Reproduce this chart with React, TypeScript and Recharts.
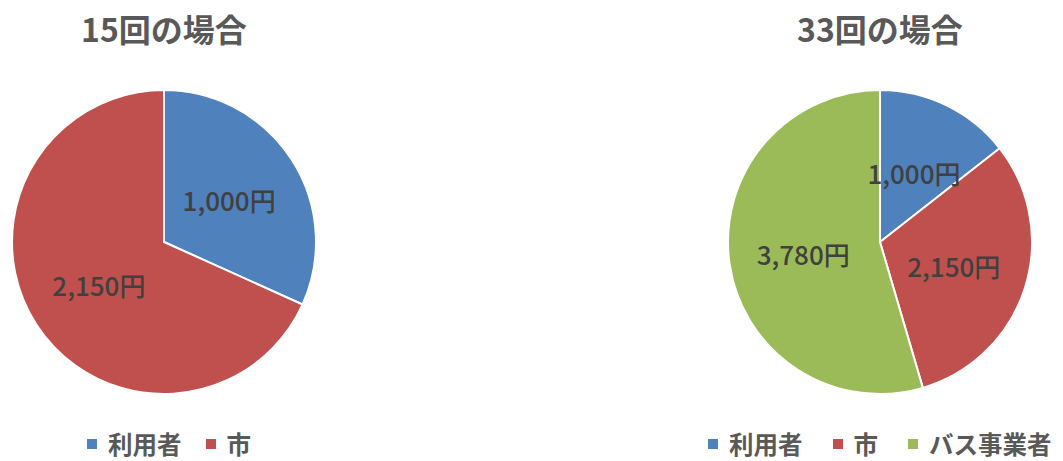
import React from 'react';
import { PieChart, Pie, Cell, Legend } from 'recharts';

const categories15 = ['利用者', '市'];
const values15 = [1000, 2150];
const categories33 = ['利用者', '市', 'バス事業者'];
const values33 = [1000, 2150, 3780];
const titles = ['15回の場合', '33回の場合'];
const colors = ['#4F81BD', '#C0504D', '#9BBB59'];

const FONT = '"Noto Sans CJK JP", "Noto Sans", sans-serif';
const RAD = Math.PI / 180;

const renderLabel = (props: any) => {
  const { cx, cy, midAngle, outerRadius, value } = props;
  const r = outerRadius * 0.51;
  const x = cx + r * Math.cos(-midAngle * RAD);
  const y = cy + r * Math.sin(-midAngle * RAD);
  return (
    <text x={x} y={y} fill="#404040" textAnchor="middle" dominantBaseline="central"
      style={{ fontFamily: FONT, fontSize: 26, fontWeight: 500 }}>
      {value.toLocaleString('en-US')}円
    </text>
  );
};

const makeLegend = (cats: string[], gap: number) => () => (
  <div style={{ display: 'flex', alignItems: 'center', fontFamily: FONT, whiteSpace: 'nowrap', height: 26 }}>
    {cats.map((c, i) => (
      <div key={i} style={{ display: 'flex', alignItems: 'center', marginLeft: i === 0 ? 0 : gap, height: 26 }}>
        <span style={{ display: 'inline-block', width: 10, height: 10, background: colors[i], marginRight: 11 }} />
        <span style={{ fontSize: 24.5, fontWeight: 700, color: '#595959', lineHeight: '26px', height: 26 }}>{c}</span>
      </div>
    ))}
  </div>
);

const PieBlock = ({ left, width, cx, cats, vals, title, legendLeft, gap }: any) => {
  const data = cats.map((c: string, i: number) => ({ name: c, value: vals[i] }));
  const LegendContent = makeLegend(cats, gap);
  return (
    <div style={{ position: 'absolute', left, top: 0, width, height: 461 }}>
      <div style={{ position: 'absolute', left: cx - 150, width: 300, top: 4, textAlign: 'center',
        fontFamily: FONT, fontSize: 32, fontWeight: 700, color: '#595959', lineHeight: '48px' }}>
        {title}
      </div>
      <PieChart width={width} height={461} margin={{ top: 0, right: 0, bottom: 0, left: 0 }}>
        <Pie data={data} dataKey="value" nameKey="name" cx={cx} cy={242} outerRadius={152}
          startAngle={90} endAngle={-270} stroke="#ffffff" strokeWidth={2}
          isAnimationActive={false} labelLine={false} label={renderLabel}>
          {data.map((_: any, i: number) => <Cell key={i} fill={colors[i]} />)}
        </Pie>
        <Legend content={<LegendContent />} verticalAlign="bottom" align="left"
          wrapperStyle={{ position: 'absolute', top: 431, left: legendLeft, width: width - legendLeft, height: 26, overflow: 'visible' }} />
      </PieChart>
    </div>
  );
};

export default function App() {
  return (
    <div style={{ position: 'absolute', left: 0, top: 0, width: 1063, height: 461, background: '#fff', overflow: 'hidden' }}>
      <PieBlock left={0} width={340} cx={164} cats={categories15} vals={values15} title={titles[0]} legendLeft={87} gap={24} />
      <PieBlock left={690} width={380} cx={190} cats={categories33} vals={values33} title={titles[1]} legendLeft={18} gap={30} />
    </div>
  );
}
